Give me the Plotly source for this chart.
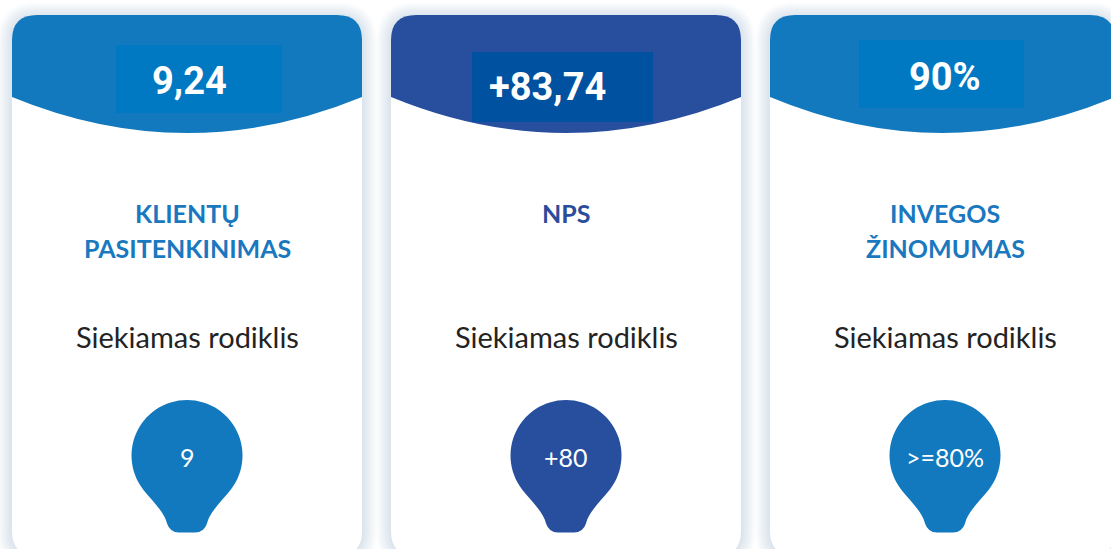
import plotly.graph_objects as go

# ---- data ----
values = ["9,24", "+83,74", "90%"]
title_lines = [["KLIENTŲ", "PASITENKINIMAS"], ["NPS"], ["INVEGOS", "ŽINOMUMAS"]]
subtitle = "Siekiamas rodiklis"
targets = ["9", "+80", ">=80%"]

# ---- style / layout ----
W, H = 1111, 549
card_left = [12, 391, 770]
card_right = [362, 741, 1115]
card_top = 15
card_bottom = 556
radius = 25
header_col = ["#1379BE", "#274F9E", "#1379BE"]
box_col = ["#0079C2", "#0051A0", "#0079C2"]
title_col = ["#1A78BF", "#2B4C9B", "#1A78BF"]
boxes = [(116, 45, 282, 113), (472, 52, 653, 122), (859, 40, 1024, 108)]
val_pos = [(189, 81), (547, 87), (945, 77)]
centers = [187, 566, 945]


def rrect(x0, y0, x1, y1, r):
    return (f"M {x0},{y0+r} Q {x0},{y0} {x0+r},{y0} L {x1-r},{y0} "
            f"Q {x1},{y0} {x1},{y0+r} L {x1},{y1-r} Q {x1},{y1} {x1-r},{y1} "
            f"L {x0+r},{y1} Q {x0},{y1} {x0},{y1-r} Z")


def header(x0, x1, y0, r):
    cx = (x0 + x1) / 2
    return (f"M {x0},{y0+r} Q {x0},{y0} {x0+r},{y0} L {x1-r},{y0} "
            f"Q {x1},{y0} {x1},{y0+r} L {x1},97 Q {cx},169 {x0},97 Z")


def balloon(cx, cy, r=55.5):
    import math
    pts = []
    n = 60
    a0, a1 = math.radians(142), math.radians(398)
    for i in range(n + 1):
        t = a0 + (a1 - a0) * i / n
        pts.append((cx + r * math.cos(t), cy + r * math.sin(t)))
    p = "M " + " L ".join(f"{x:.2f},{y:.2f}" for x, y in pts)
    p += (f" C {cx+33},{cy+47} {cx+22},{cy+58} {cx+20},{cy+68}"
          f" Q {cx+17},{cy+77} {cx+8},{cy+77} L {cx-8},{cy+77}"
          f" Q {cx-17},{cy+77} {cx-20},{cy+68}"
          f" C {cx-22},{cy+58} {cx-33},{cy+47} {pts[0][0]:.2f},{pts[0][1]:.2f} Z")
    return p


shapes = []
annotations = []
for i in range(3):
    x0 = card_left[i]
    x1 = card_right[i]
    cx = centers[i]
    for k in range(1, 10):
        e = k * 1.6
        shapes.append(dict(type="path", path=rrect(x0 - e, card_top - e + 2, x1 + e, card_bottom + e, radius + e),
                           fillcolor="rgba(140,150,195,0.03)", line=dict(width=0), layer="below"))
    shapes.append(dict(type="path", path=rrect(x0, card_top, x1, card_bottom, radius),
                       fillcolor="white", line=dict(width=0)))
    shapes.append(dict(type="path", path=header(x0, x1, card_top, radius),
                       fillcolor=header_col[i], line=dict(width=0)))
    bx0, by0, bx1, by1 = boxes[i]
    shapes.append(dict(type="rect", x0=bx0, y0=by0, x1=bx1, y1=by1,
                       fillcolor=box_col[i], line=dict(width=0)))
    shapes.append(dict(type="path", path=balloon(cx, 455.5),
                       fillcolor=header_col[i], line=dict(width=0)))

    vx, vy = val_pos[i]
    annotations.append(dict(x=vx, y=vy, text=values[i], showarrow=False,
                            font=dict(family="Roboto", size=38, color="white", weight="bold"),
                            xanchor="center", yanchor="middle"))
    for j, line in enumerate(title_lines[i]):
        annotations.append(dict(x=cx, y=213 + 35 * j, text=line, showarrow=False,
                                font=dict(family="Lato", size=25, color=title_col[i], weight="bold"),
                                xanchor="center", yanchor="middle"))
    annotations.append(dict(x=cx, y=336, text=subtitle, showarrow=False,
                            font=dict(family="Lato", size=29, color="#232323"),
                            xanchor="center", yanchor="middle"))
    annotations.append(dict(x=cx, y=457, text=targets[i], showarrow=False,
                            font=dict(family="Lato", size=25, color="white"),
                            xanchor="center", yanchor="middle"))

fig = go.Figure()
fig.update_layout(
    width=W, height=H,
    margin=dict(l=0, r=0, t=0, b=0),
    paper_bgcolor="white", plot_bgcolor="white",
    xaxis=dict(range=[0, W], visible=False, fixedrange=True),
    yaxis=dict(range=[H, 0], visible=False, fixedrange=True),
    shapes=shapes, annotations=annotations, showlegend=False,
)
fig.write_html("out.html", config={"displayModeBar": False},
               post_script="document.body.style.margin='0';document.body.style.overflow='hidden';")
